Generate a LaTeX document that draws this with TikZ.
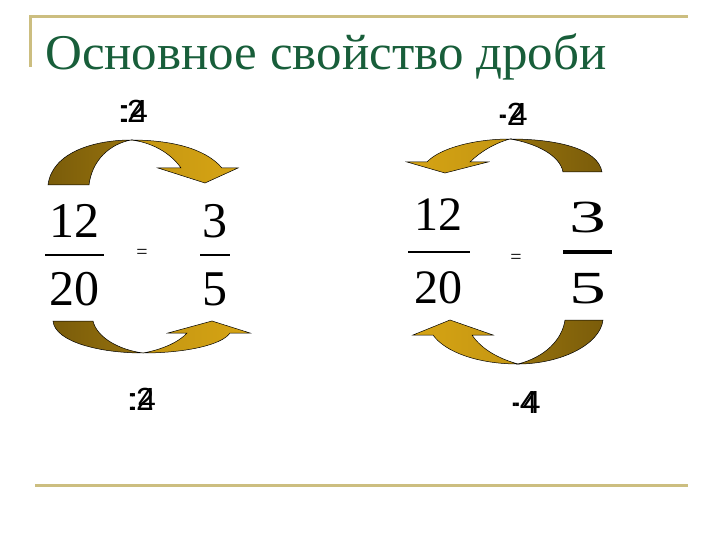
\documentclass[tikz,border=0pt]{standalone}
\usepackage{fontspec}
\setmainfont{Liberation Serif}
\newfontfamily\arialf{Liberation Sans}
\usepackage{tikz}
\usetikzlibrary{positioning}
\definecolor{titlegreen}{RGB}{24,94,58}
\definecolor{rulegold}{RGB}{204,190,128}
\definecolor{darkgold}{RGB}{122,92,10}
\definecolor{lightgold}{RGB}{214,164,20}
\tikzset{num/.style={anchor=base, inner sep=0pt, font=\fontsize{50}{60}\selectfont}}
\tikzset{bignum/.style={anchor=base, inner sep=0pt, font=\fontsize{46}{52}\selectfont}}
\tikzset{eqsign/.style={inner sep=0pt, font=\fontsize{20}{24}\selectfont}}
\tikzset{oplabel/.style={anchor=base west, inner sep=0pt, font=\arialf\fontsize{32}{36}\selectfont}}
\tikzset{darkpart/.style={draw=black, line width=0.5pt, left color=darkgold, right color=darkgold!70!lightgold}}
\tikzset{lightpart/.style={draw=black, line width=0.5pt, left color=lightgold!80!darkgold, right color=lightgold}}

\begin{document}
\begin{tikzpicture}[x=1pt, y=-1pt]
\useasboundingbox (0,0) rectangle (720,540);
\draw[rulegold, line width=3pt] (30,67) -- (30,17) -- (688,17);
\draw[rulegold, line width=3pt] (35,485) -- (688,485);
\node[anchor=base west, inner sep=0pt, text=titlegreen, font=\fontsize{50}{58}\selectfont] (title) at (45,70) {\scalebox{1.02}[1]{Основное свойство дроби}};

\node[num] (ln) at (74,237) {12};
\node[num] (ld) at (74,305) {20};
\node[num] (rn) at (215,237) {3};
\node[num] (rd) at (215,305) {5};
\draw[line width=2pt] (45,255) -- (104,255);
\draw[line width=2pt] (200,255) -- (230,255);
\node[eqsign] (leq) at (142,253.5) {=};

\node[num, font=\fontsize{48}{56}\selectfont] (ln2) at (438,230) {12};
\node[num, font=\fontsize{48}{56}\selectfont] (ld2) at (438,303) {20};
\node[bignum] (rn2) at (588,233) {\scalebox{1.6}[1]{3}};
\node[bignum] (rd2) at (588,303) {\scalebox{1.6}[1]{5}};
\draw[line width=2pt] (408,252) -- (470,252);
\draw[line width=4pt] (563,252) -- (612,252);
\node[eqsign] (req) at (516,258.5) {=};

\path[darkpart] (48,185) .. controls (52,152) and (95,140) .. (131,140) .. controls (110,144) and (92,160) .. (89,185) -- cycle;
\path[lightpart] (131,140) .. controls (170,140) and (205,148) .. (222,168) -- (238,168) -- (205,183) -- (158,168) -- (181,168) .. controls (170,152) and (150,142) .. (131,140) -- cycle;

\path[darkpart] (53,321) -- (93,321) .. controls (97,338) and (120,350) .. (143,353) .. controls (100,353) and (55,342) .. (53,321) -- cycle;
\path[lightpart] (143,353) .. controls (185,353) and (222,345) .. (230,333) -- (250,333) -- (212,321) -- (168,333) -- (187,333) .. controls (178,343) and (160,350) .. (143,353) -- cycle;

\path[darkpart, left color=darkgold!70!lightgold, right color=darkgold] (602,172) .. controls (598,148) and (555,139) .. (510,139) .. controls (535,143) and (560,155) .. (563,172) -- cycle;
\path[lightpart, left color=lightgold, right color=lightgold!80!darkgold] (510,139) .. controls (475,139) and (440,148) .. (427,162) -- (407,162) -- (445,173) -- (488,162) -- (470,162) .. controls (480,152) and (495,143) .. (510,139) -- cycle;

\path[darkpart, left color=darkgold!70!lightgold, right color=darkgold] (565,320) -- (603,320) .. controls (600,345) and (560,364) .. (518,364) .. controls (545,357) and (562,340) .. (565,320) -- cycle;
\path[lightpart, left color=lightgold, right color=lightgold!80!darkgold] (518,364) .. controls (478,364) and (445,352) .. (433,335) -- (413,335) -- (450,320) -- (493,335) -- (472,335) .. controls (482,350) and (500,359) .. (518,364) -- cycle;

\node[oplabel] (tl2) at (118,123) {:2};
\node[oplabel] (tl4) at (121,123) {:4};
\node[oplabel] (tr2) at (496,126) {·2};
\node[oplabel] (tr4) at (499,126) {·4};
\node[oplabel] (bl2) at (127,410) {:2};
\node[oplabel] (bl4) at (129,410) {:4};
\node[oplabel] (br2) at (509,413) {·4};
\node[oplabel] (br4) at (512,413) {·4};
\end{tikzpicture}
\end{document}
